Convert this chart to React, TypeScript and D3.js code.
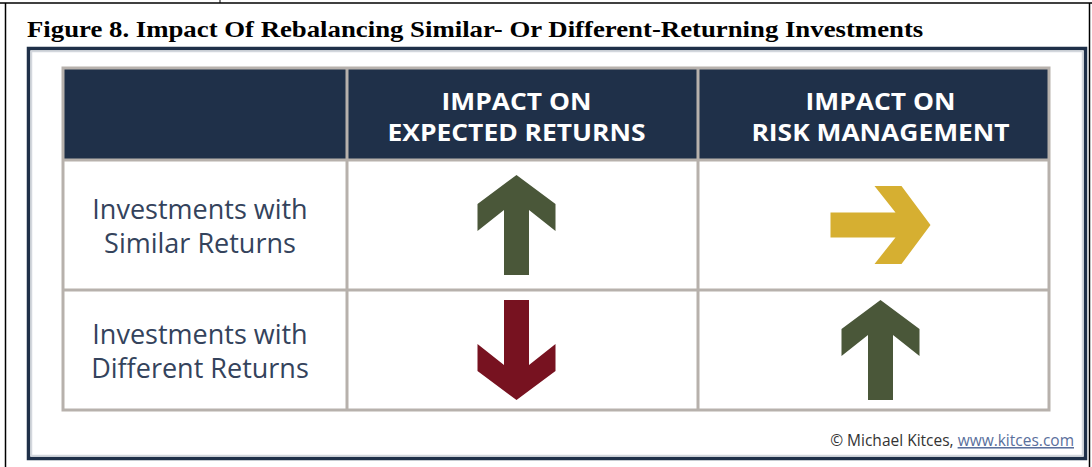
import * as d3 from "d3";

const TITLE = "Figure 8. Impact Of Rebalancing Similar- Or Different-Returning Investments";
const COLUMNS = ["", "IMPACT ON|EXPECTED RETURNS", "IMPACT ON|RISK MANAGEMENT"];
const ROWS = ["Investments with|Similar Returns", "Investments with|Different Returns"];
// arrow direction per cell, row by row (expected returns, risk management)
const DIRECTIONS = [
  ["up", "right"],
  ["down", "up"],
];
const CREDIT = "© Michael Kitces, ";
const CREDIT_LINK = "www.kitces.com";

const W = 1092;
const H = 467;
const NAVY = "#1f3049";
const GRID = "#b7b1ac";
const COLOR: Record<string, string> = { up: "#4a5739", down: "#771220", right: "#d6af31" };
const ROTATE: Record<string, number> = { up: 0, right: 90, down: 180 };

// table edges
const colEdges = [63, 347, 698, 1049];
const rowEdges = [68, 160, 290, 410];
const contentNudge = [-5, -6, 7];

const colX = d3.scaleOrdinal<string, number>().domain(COLUMNS).range(colEdges.slice(0, 3));
const colEnd = d3.scaleOrdinal<string, number>().domain(COLUMNS).range(colEdges.slice(1));
const rowKeys = ["header", ...ROWS];
const rowY = d3.scaleOrdinal<string, number>().domain(rowKeys).range(rowEdges.slice(0, 3));
const rowEnd = d3.scaleOrdinal<string, number>().domain(rowKeys).range(rowEdges.slice(1));

const colCenter = (c: string, i: number) => (colX(c) + colEnd(c)) / 2 + contentNudge[i];
const rowCenter = (r: string) => (rowY(r) + rowEnd(r)) / 2;

// arrow pointing up, centered at 0,0
const arrowPts: [number, number][] = [
  [0, -50], [39, -21], [39, 6], [12.5, -15], [12.5, 50],
  [-12.5, 50], [-12.5, -15], [-39, 6], [-39, -21],
];
const arrowPath = d3.line()(arrowPts) + "Z";

export default function App() {
  return (
    <svg width={W} height={H} style={{ position: "absolute", left: 0, top: 0, background: "#fff" }}>
      {/* page fragments */}
      <line x1={0} x2={W} y1={3} y2={3} stroke="#000" strokeWidth={1.5} />
      <line x1={220} x2={220} y1={0} y2={3} stroke="#000" strokeWidth={1} />
      <line x1={5.5} x2={5.5} y1={3} y2={H} stroke="#000" strokeWidth={1.5} />
      <line x1={1089.5} x2={1089.5} y1={3} y2={H} stroke="#000" strokeWidth={1.5} />

      <text
        transform="translate(27,37) scale(1.19,1)"
        fontFamily="Liberation Serif"
        fontWeight="bold"
        fontSize={22.5}
        fill="#000"
      >
        {TITLE}
      </text>

      {/* frame */}
      <rect x={28.5} y={48.5} width={1057} height={410} fill="#fff" stroke={NAVY} strokeWidth={3.5} />
      <rect x={31.5} y={51.5} width={1051} height={404} fill="none" stroke="#d3d7dd" strokeWidth={1.5} />

      {/* header */}
      <rect x={colEdges[0]} y={rowEdges[0]} width={colEdges[3] - colEdges[0]} height={rowEdges[1] - rowEdges[0]} fill={NAVY} />

      {COLUMNS.map((c, i) =>
        c.split("|").filter((s) => s).map((line, j) => (
          <text
            key={c + j}
            transform={`translate(${colCenter(c, i)},${rowCenter("header") - 4 + j * 31}) scale(1.1,1)`}
            textAnchor="middle"
            fontFamily="Open Sans"
            fontWeight="bold"
            fontSize={24}
            fill="#fff"
          >
            {line}
          </text>
        ))
      )}

      {ROWS.map((r) =>
        r.split("|").map((line, j) => (
          <text
            key={r + j}
            x={colCenter(COLUMNS[0], 0)}
            y={rowCenter(r) - 6 + j * 34}
            textAnchor="middle"
            fontFamily="Open Sans"
            fontSize={27}
            fill="#34435c"
          >
            {line}
          </text>
        ))
      )}

      {/* arrows */}
      {ROWS.map((r, ri) =>
        DIRECTIONS[ri].map((d, ci) => {
          const c = COLUMNS[ci + 1];
          return (
            <path
              key={r + c}
              d={arrowPath}
              fill={COLOR[d]}
              transform={`translate(${colCenter(c, ci + 1)},${rowCenter(r)}) rotate(${ROTATE[d]})`}
            />
          );
        })
      )}

      {/* grid */}
      <rect
        x={colEdges[0]}
        y={rowEdges[0]}
        width={colEdges[3] - colEdges[0]}
        height={rowEdges[3] - rowEdges[0]}
        fill="none"
        stroke={GRID}
        strokeWidth={3}
      />
      {colEdges.slice(1, 3).map((x) => (
        <line key={x} x1={x} x2={x} y1={rowEdges[0]} y2={rowEdges[3]} stroke={GRID} strokeWidth={3} />
      ))}
      {rowEdges.slice(1, 3).map((y) => (
        <line key={y} x1={colEdges[0]} x2={colEdges[3]} y1={y} y2={y} stroke={GRID} strokeWidth={3} />
      ))}

      <text x={1074} y={446} textAnchor="end" fontFamily="Open Sans" fontSize={15.5} fill="#333">
        {CREDIT}
        <tspan fill="#5a6f9c" textDecoration="underline">{CREDIT_LINK}</tspan>
      </text>
    </svg>
  );
}
